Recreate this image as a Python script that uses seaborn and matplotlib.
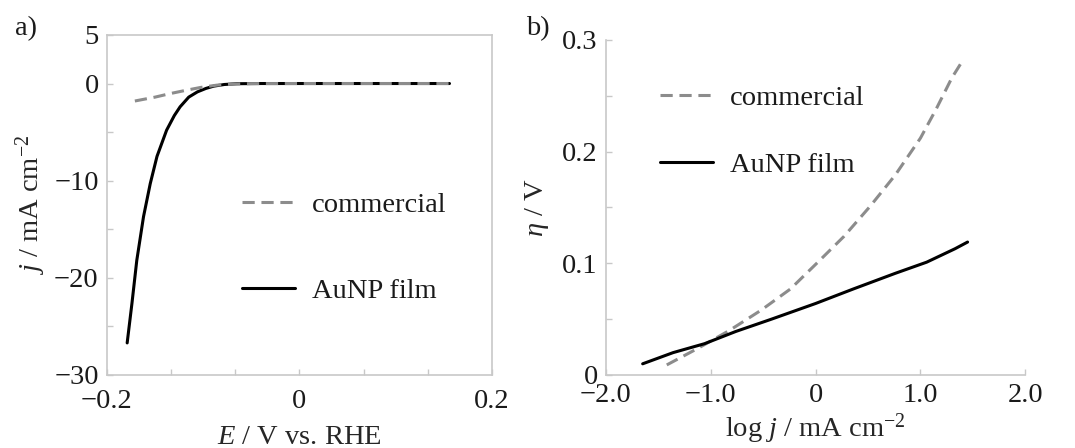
#!/usr/bin/env python3
"""
AuNP film vs commercial catalyst - polarization curve and Tafel plot
"""

import matplotlib
matplotlib.use('Agg')
import matplotlib.pyplot as plt
from matplotlib.ticker import FixedLocator, FixedFormatter
import seaborn as sns

# ---- panel a) polarization curves ----
E_aunp = [-0.179, -0.174, -0.169, -0.162, -0.155, -0.148, -0.138, -0.130, -0.124,
          -0.115, -0.106, -0.097, -0.089, -0.078, -0.065, -0.040, 0.0, 0.156]
j_aunp = [-26.7, -22.6, -18.2, -13.7, -10.3, -7.5, -4.8, -3.3, -2.4,
          -1.4, -0.86, -0.5, -0.27, -0.1, -0.02, 0.0, 0.0, 0.0]
E_comm = [-0.171, -0.150, -0.134, -0.118, -0.103, -0.086, -0.070, -0.050, 0.0, 0.156]
j_comm = [-1.8, -1.4, -1.03, -0.7, -0.41, -0.17, -0.06, -0.01, 0.0, 0.0]

# ---- panel b) Tafel plots ----
logj_aunp = [-1.65, -1.36, -1.06, -0.76, -0.42, 0.0, 0.36, 0.76, 1.06, 1.33, 1.45]
eta_aunp = [0.010, 0.020, 0.028, 0.039, 0.050, 0.064, 0.077, 0.091, 0.101, 0.113, 0.119]
logj_comm = [-1.42, -1.12, -0.82, -0.52, -0.24, 0.0, 0.27, 0.52, 0.76, 1.0, 1.15, 1.30, 1.40]
eta_comm = [0.009, 0.024, 0.040, 0.058, 0.077, 0.099, 0.124, 0.151, 0.179, 0.212, 0.238, 0.266, 0.281]

a_major = [5, 0, -10, -20, -30]
a_ylabels = ['5', '0', '\u221210', '\u221220', '\u221230']
a_minor = [-5, -15, -25]
a_xmajor = [-0.2, 0, 0.2]
a_xlabels = ['\u22120.2', '0', '0.2']
a_xminor = [-0.1333, -0.0667, 0.0667, 0.1333]
b_xmajor = [-2, -1, 0, 1, 2]
b_xlabels = ['\u22122.0', '\u22121.0', '0', '1.0', '2.0']
b_ymajor = [0, 0.1, 0.2, 0.3]
b_ylabels = ['0', '0.1', '0.2', '0.3']
b_yminor = [0.05, 0.15, 0.25]

sns.set_style('ticks')
plt.rcParams['font.family'] = ['Liberation Serif', 'DejaVu Serif']
plt.rcParams['mathtext.fontset'] = 'custom'
plt.rcParams['mathtext.rm'] = 'Liberation Serif'
plt.rcParams['mathtext.it'] = 'Liberation Serif:italic'
plt.rcParams['text.color'] = '#1a1a1a'

FS = 20.5
SPINE = '#c8c8c8'
GRAY = '#8c8c8c'
DASH = (0, (4, 2.2))

fig = plt.figure(figsize=(10.75, 4.48), dpi=100)
ax_a = fig.add_axes([0.0995, 0.163, 0.358, 0.759])
ax_b = fig.add_axes([0.5637, 0.163, 0.390, 0.748])


def style_axes(ax, full_box, xpad):
    for side in ['left', 'bottom', 'top', 'right']:
        ax.spines[side].set_color(SPINE)
        ax.spines[side].set_linewidth(1.2)
        ax.spines[side].set_visible(full_box or side in ('left', 'bottom'))
    ax.tick_params(which='both', direction='in', length=4, width=1,
                   color=SPINE, labelsize=FS, labelcolor='#1a1a1a')
    ax.tick_params(axis='y', pad=6)
    ax.tick_params(axis='x', pad=xpad)


# panel a
sns.lineplot(x=E_aunp, y=j_aunp, ax=ax_a, color='black', lw=2.2,
             estimator=None, sort=False, label='AuNP film', zorder=2)
sns.lineplot(x=E_comm, y=j_comm, ax=ax_a, color=GRAY, lw=2.2, linestyle=DASH,
             estimator=None, sort=False, label='commercial', zorder=3)
ax_a.set_xlim(-0.2, 0.2)
ax_a.set_ylim(-30, 5)
ax_a.yaxis.set_major_locator(FixedLocator(a_major))
ax_a.yaxis.set_major_formatter(FixedFormatter(a_ylabels))
ax_a.yaxis.set_minor_locator(FixedLocator(a_minor))
ax_a.xaxis.set_major_locator(FixedLocator(a_xmajor))
ax_a.xaxis.set_major_formatter(FixedFormatter(a_xlabels))
ax_a.xaxis.set_minor_locator(FixedLocator(a_xminor))
style_axes(ax_a, True, 10)
ax_a.set_xlabel(r'$E$ / V vs. RHE', fontsize=FS, labelpad=8)
ax_a.set_ylabel(r'$j$ / mA cm$^{-2}$', fontsize=FS, labelpad=4)
h, l = ax_a.get_legend_handles_labels()
ax_a.legend(h[::-1], l[::-1], loc='center left', bbox_to_anchor=(0.351, 0.373),
            frameon=False, fontsize=FS, handlelength=1.86, handletextpad=0.6,
            labelspacing=2.09, borderpad=0, borderaxespad=0)

# panel b
sns.lineplot(x=logj_aunp, y=eta_aunp, ax=ax_b, color='black', lw=2.2,
             estimator=None, sort=False, label='AuNP film', zorder=3)
sns.lineplot(x=logj_comm, y=eta_comm, ax=ax_b, color=GRAY, lw=2.2, linestyle=DASH,
             estimator=None, sort=False, label='commercial', zorder=2)
ax_b.set_xlim(-2, 2)
ax_b.set_ylim(0, 0.3)
ax_b.xaxis.set_major_locator(FixedLocator(b_xmajor))
ax_b.xaxis.set_major_formatter(FixedFormatter(b_xlabels))
ax_b.yaxis.set_major_locator(FixedLocator(b_ymajor))
ax_b.yaxis.set_major_formatter(FixedFormatter(b_ylabels))
ax_b.yaxis.set_minor_locator(FixedLocator(b_yminor))
style_axes(ax_b, False, 6)
ax_b.set_xlabel(r'log $j$ / mA cm$^{-2}$', fontsize=FS, labelpad=2)
ax_b.set_ylabel(r'$\eta$ / V', fontsize=FS, labelpad=8)
h, l = ax_b.get_legend_handles_labels()
ax_b.legend(h[::-1], l[::-1], loc='center left', bbox_to_anchor=(0.129, 0.727),
            frameon=False, fontsize=FS, handlelength=1.86, handletextpad=0.6,
            labelspacing=1.42, borderpad=0, borderaxespad=0)

fig.text(0.014, 0.965, 'a)', fontsize=FS, va='top')
fig.text(0.489, 0.965, 'b)', fontsize=FS, va='top')

plt.savefig('out.png', dpi=100)
plt.close()
